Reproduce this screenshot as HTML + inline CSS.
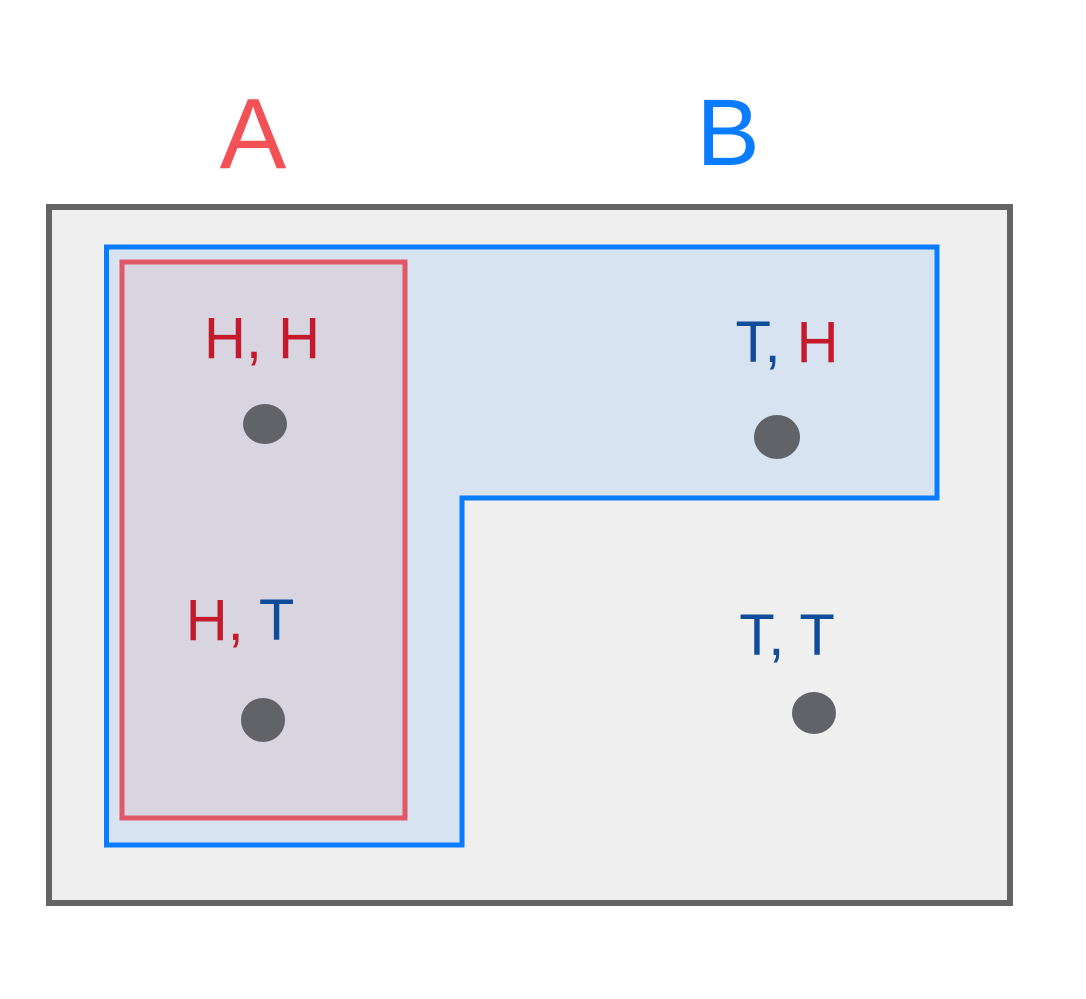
<!DOCTYPE html>
<html><head><meta charset="utf-8"><style>
html,body{margin:0;padding:0;background:#fff;width:1086px;height:999px;overflow:hidden}
text{font-family:"Liberation Sans",sans-serif}
</style></head><body>
<svg width="1086" height="999" viewBox="0 0 1086 999" xmlns="http://www.w3.org/2000/svg">
<rect x="0" y="0" width="1086" height="999" fill="#fff"/>
<text x="253" y="168" font-size="100" fill="#f25256" text-anchor="middle">A</text>
<text x="728" y="165" font-size="95" fill="#0a7cff" text-anchor="middle">B</text>
<rect x="49" y="207" width="961" height="696" fill="#efefef" stroke="#646464" stroke-width="6"/>
<polygon points="106.5,247 937,247 937,498 462,498 462,845 106.5,845" fill="#d7e3f0" stroke="#0a7cff" stroke-width="5"/>
<rect x="122" y="262" width="283" height="556" fill="#d8d4e0" stroke="#e05766" stroke-width="5"/>
<g font-size="58" text-anchor="middle">
<text x="262" y="358"><tspan fill="#c41a2c">H, H</tspan></text>
<text x="787" y="362"><tspan fill="#0f4c9a">T, </tspan><tspan fill="#c41a2c">H</tspan></text>
<text x="240" y="640"><tspan fill="#c41a2c">H, </tspan><tspan fill="#0f4c9a">T</tspan></text>
<text x="787" y="655"><tspan fill="#0f4c9a">T, T</tspan></text>
</g>
<g fill="#626269">
<ellipse cx="265" cy="424" rx="22" ry="20"/>
<ellipse cx="777" cy="437" rx="23" ry="22"/>
<ellipse cx="263" cy="720" rx="22" ry="22"/>
<ellipse cx="814" cy="713" rx="22" ry="21"/>
</g>
</svg>
</body></html>
